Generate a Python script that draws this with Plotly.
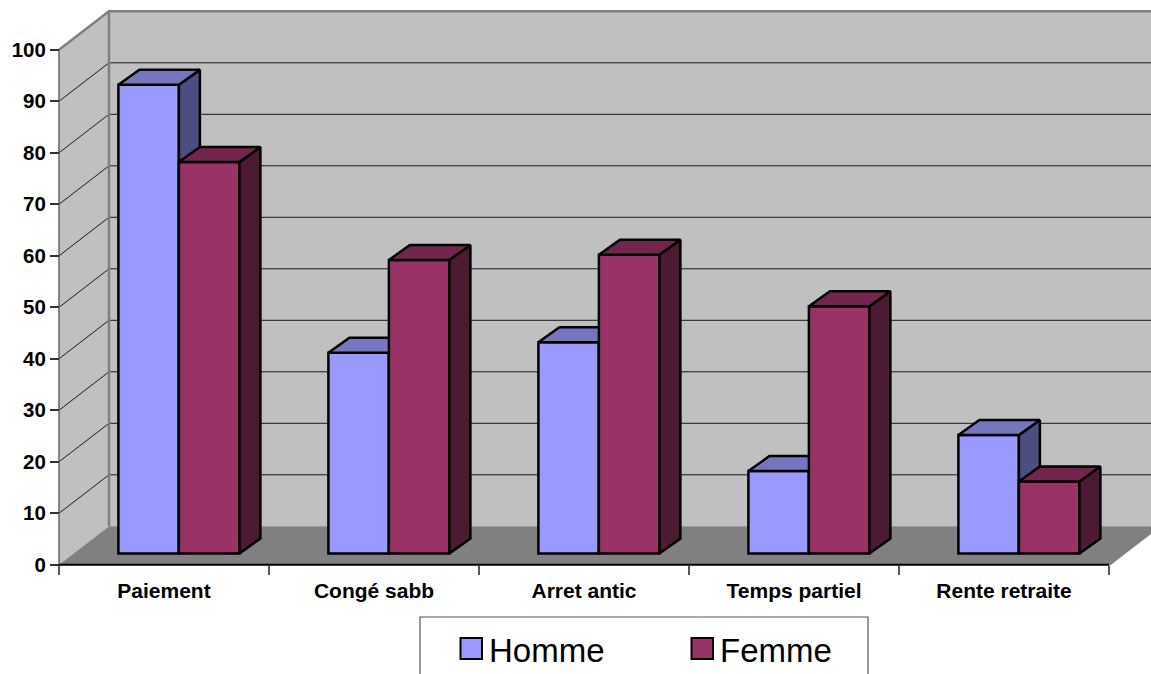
import plotly.graph_objects as go

categories = ["Paiement", "Congé sabb", "Arret antic", "Temps partiel", "Rente retraite"]
homme = [91, 39, 41, 16, 23]
femme = [76, 57, 58, 48, 14]
y_ticks = [0, 10, 20, 30, 40, 50, 60, 70, 80, 90, 100]

# page geometry: the plot area fills the page so the 3D box can leave the value range
W, H = 1151, 674
AX_L, AX_B, AX_T = 59, 564.8, 49.8
UX = 210                      # pixels per category
UY = (AX_B - AX_T) / 100      # pixels per value unit


def ux(px):
    return px / UX


def uy(px):
    return px / UY


def pap_x(px):
    return px / W


def pap_y(py):
    return (H - py) / H


WALL_DX, WALL_DY = ux(50), uy(38.5)
BAR_W = ux(60.5)
BAR_DX, BAR_DY = ux(21), uy(15)
BAR_BASE = uy(11.3)
BAR_SHIFT = ux(14.9)
XMIN, XMAX = -0.5, 4.5
X_RANGE = [XMIN - ux(AX_L), XMIN + ux(W - AX_L)]
Y_RANGE = [-uy(H - AX_B), uy(AX_B)]

C_WALL, C_FLOOR, C_EDGE = "#c0c0c0", "#808080", "#808080"
C_H = ("#9999ff", "#7676c0", "#4d4d80")
C_F = ("#993366", "#73264d", "#4d1a33")
FONT = "Liberation Sans"
x_pos = [i + BAR_SHIFT for i in range(len(categories))]


def poly(points):
    xs, ys = zip(*points)
    return list(xs) + [xs[0]], list(ys) + [ys[0]]


def face(x, y, color, xa="x", ya="y", line=None, width=0):
    return go.Scatter(
        x=x, y=y, mode="lines", fill="toself", fillcolor=color,
        line=dict(color=line or color, width=width if line else 0),
        showlegend=False, hoverinfo="skip", xaxis=xa, yaxis=ya,
    )


def stroke(x, y, color, width):
    return go.Scatter(x=x, y=y, mode="lines", line=dict(color=color, width=width),
                      showlegend=False, hoverinfo="skip")


fig = go.Figure()

# back wall, left wall, floor
top = 100
wx, wy = poly([(XMIN + WALL_DX, WALL_DY), (XMIN + WALL_DX, top + WALL_DY),
               (XMAX + WALL_DX, top + WALL_DY), (XMAX + WALL_DX, WALL_DY)])
fig.add_trace(face(wx, wy, C_WALL))
lx, ly = poly([(XMIN, 0), (XMIN, top), (XMIN + WALL_DX, top + WALL_DY), (XMIN + WALL_DX, WALL_DY)])
fig.add_trace(face(lx, ly, C_WALL))
fx, fy = poly([(XMIN, 0), (XMIN + WALL_DX, WALL_DY), (XMAX + WALL_DX, WALL_DY), (XMAX, 0)])
fig.add_trace(face(fx, fy, C_FLOOR))

# gridlines: left wall diagonal then along the back wall
gx, gy = [], []
for v in y_ticks[1:-1]:
    gx += [XMIN, XMIN + WALL_DX, XMAX + WALL_DX, None]
    gy += [v, v + WALL_DY, v + WALL_DY, None]
fig.add_trace(stroke(gx, gy, "#1a1a1a", 1))

# wall outline and axis lines
fig.add_trace(stroke(
    [XMIN, XMIN + WALL_DX, XMAX + WALL_DX, None, XMIN + WALL_DX, XMIN + WALL_DX, None, XMAX, XMAX + WALL_DX],
    [top, top + WALL_DY, top + WALL_DY, None, top + WALL_DY, WALL_DY, None, 0, WALL_DY],
    C_EDGE, 2.5))
fig.add_trace(stroke([XMIN, XMIN], [0, top], "#666666", 1.5))
fig.add_trace(stroke([XMIN, XMAX], [0, 0], "black", 2))


def series(name, vals, colors, offset, xa, ya):
    fig.add_trace(go.Bar(
        x=x_pos, y=vals, base=BAR_BASE, width=BAR_W, offset=offset, name=name,
        marker=dict(color=colors[0], line=dict(color="black", width=2.5)),
        customdata=categories, hovertemplate="%{customdata}: %{y}<extra>" + name + "</extra>",
        showlegend=False, xaxis=xa, yaxis=ya,
    ))
    tx, ty, sx, sy = [], [], [], []
    for x0, v in zip(x_pos, vals):
        xl, xr = x0 + offset, x0 + offset + BAR_W
        t, b = BAR_BASE + v, BAR_BASE
        px, py = poly([(xl, t), (xl + BAR_DX, t + BAR_DY), (xr + BAR_DX, t + BAR_DY), (xr, t)])
        tx += px + [None]
        ty += py + [None]
        px, py = poly([(xr, b), (xr, t), (xr + BAR_DX, t + BAR_DY), (xr + BAR_DX, b + BAR_DY)])
        sx += px + [None]
        sy += py + [None]
    fig.add_trace(face(sx, sy, colors[2], xa, ya, "black", 2.5))
    fig.add_trace(face(tx, ty, colors[1], xa, ya, "black", 2.5))


series("Homme", homme, C_H, -BAR_W, "x2", "y2")
series("Femme", femme, C_F, 0, "x3", "y3")

hidden_x = dict(range=X_RANGE, overlaying="x", visible=False, fixedrange=True)
hidden_y = dict(range=Y_RANGE, overlaying="y", visible=False, fixedrange=True)

# legend box, cut by the lower page edge as in the reference
shapes = [dict(type="rect", xref="paper", yref="paper", x0=pap_x(420), x1=pap_x(868),
               y0=pap_y(690), y1=pap_y(617), line=dict(color="#555555", width=1.2),
               fillcolor="white", layer="below")]
annotations = []
for name, col, sw, tx in [("Homme", C_H[0], 460.5, 487), ("Femme", C_F[0], 691.5, 718)]:
    shapes.append(dict(type="rect", xref="paper", yref="paper", x0=pap_x(sw), x1=pap_x(sw + 21.5),
                       y0=pap_y(659), y1=pap_y(638), line=dict(color="black", width=2), fillcolor=col))
    annotations.append(dict(text=name, xref="paper", yref="paper", x=pap_x(tx), y=pap_y(650),
                            xanchor="left", yanchor="middle", showarrow=False,
                            font=dict(family=FONT, size=33, color="black")))

fig.update_layout(
    width=W, height=H, autosize=False,
    margin=dict(l=0, r=0, t=0, b=0, pad=0),
    paper_bgcolor="white", plot_bgcolor="white",
    barmode="overlay", showlegend=False,
    font=dict(family=FONT, color="black"),
    shapes=shapes, annotations=annotations,
    xaxis=dict(
        range=X_RANGE, anchor="free", position=pap_y(AX_B),
        tickmode="array", tickvals=list(range(5)), ticktext=categories,
        ticks="outside", ticklen=7, tickcolor="rgba(0,0,0,0)",
        tickfont=dict(family=FONT, size=21, color="black", weight="bold"),
        showgrid=False, zeroline=False, showline=False,
        minor=dict(tickmode="array", tickvals=[XMIN + i for i in range(6)],
                   ticks="outside", ticklen=9, tickwidth=1.5, tickcolor="#555555", showgrid=False),
        fixedrange=True,
    ),
    yaxis=dict(
        range=Y_RANGE, anchor="free", position=pap_x(AX_L),
        tickmode="array", tickvals=y_ticks,
        ticks="outside", ticklen=9, tickwidth=1.5, tickcolor="#333333",
        tickfont=dict(family=FONT, size=20.5, color="black", weight="bold"),
        showgrid=False, zeroline=False, showline=False,
        fixedrange=True,
    ),
    xaxis2=hidden_x, yaxis2=hidden_y, xaxis3=hidden_x, yaxis3=hidden_y,
)

fig.write_html("out.html", config=dict(displayModeBar=False),
               post_script="document.body.style.margin='0';")
